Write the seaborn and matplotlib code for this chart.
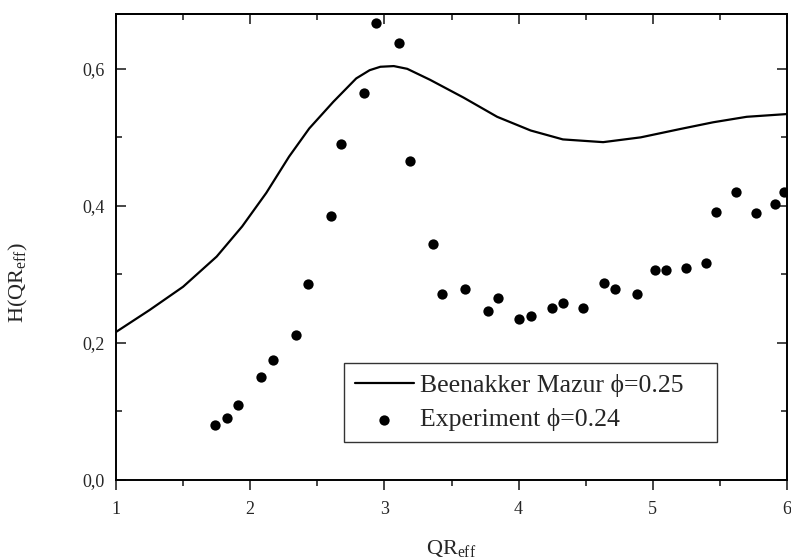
import numpy as np
import pandas as pd
import matplotlib
matplotlib.use("Agg")
import matplotlib.pyplot as plt
from matplotlib.ticker import MultipleLocator, FuncFormatter
import seaborn as sns

# Beenakker-Mazur theory curve
theory_q = [1.00, 1.25, 1.50, 1.75, 1.94, 2.12, 2.29, 2.44, 2.62, 2.79, 2.89,
            2.97, 3.07, 3.17, 3.34, 3.59, 3.84, 4.09, 4.33, 4.63, 4.91, 5.20,
            5.45, 5.70, 5.85, 6.00]
theory_h = [0.216, 0.248, 0.282, 0.326, 0.370, 0.419, 0.472, 0.513, 0.552,
            0.586, 0.598, 0.603, 0.604, 0.600, 0.584, 0.558, 0.530, 0.510,
            0.497, 0.493, 0.500, 0.512, 0.522, 0.530, 0.532, 0.534]

# experimental points
exp_q = [1.74, 1.83, 1.91, 2.08, 2.17, 2.34, 2.43, 2.60, 2.68, 2.85, 2.94,
         3.11, 3.19, 3.36, 3.43, 3.60, 3.77, 3.85, 4.00, 4.09, 4.25, 4.33,
         4.48, 4.64, 4.72, 4.88, 5.02, 5.10, 5.25, 5.40, 5.47, 5.62, 5.77,
         5.91, 5.98]
exp_h = [0.080, 0.091, 0.110, 0.150, 0.175, 0.212, 0.286, 0.385, 0.490,
         0.564, 0.667, 0.637, 0.465, 0.344, 0.271, 0.279, 0.247, 0.265,
         0.235, 0.239, 0.251, 0.259, 0.251, 0.287, 0.279, 0.272, 0.306,
         0.307, 0.309, 0.317, 0.391, 0.420, 0.389, 0.403, 0.420]

theory_label = "Beenakker Mazur \u03d5=0.25"
exp_label = "Experiment \u03d5=0.24"

sns.set_style("white")
plt.rcParams["font.family"] = ["Liberation Serif", "DejaVu Serif"]
plt.rcParams["mathtext.fontset"] = "custom"
plt.rcParams["mathtext.rm"] = "Liberation Serif"
plt.rcParams["mathtext.it"] = "Liberation Serif:italic"

df_theory = pd.DataFrame({"q": theory_q, "h": theory_h})
df_exp = pd.DataFrame({"q": exp_q, "h": exp_h})

fig = plt.figure(figsize=(7.91, 5.60), dpi=100)
ax = fig.add_axes([116 / 791, 1 - 480 / 560, 671 / 791, 466 / 560])

sns.lineplot(data=df_theory, x="q", y="h", ax=ax, color="black",
             linewidth=1.6, label=theory_label)
sns.scatterplot(data=df_exp, x="q", y="h", ax=ax, color="black", s=55,
                edgecolor="black", linewidth=0, label=exp_label)

ax.set_xlim(1, 6)
ax.set_ylim(0, 0.68)
ax.xaxis.set_major_locator(MultipleLocator(1))
ax.xaxis.set_minor_locator(MultipleLocator(0.5))
ax.yaxis.set_major_locator(MultipleLocator(0.2))
ax.yaxis.set_minor_locator(MultipleLocator(0.1))
ax.yaxis.set_major_formatter(FuncFormatter(lambda v, p: f"{v:.1f}".replace(".", ",")))
ax.xaxis.set_major_formatter(FuncFormatter(lambda v, p: f"{v:g}"))

for sp in ax.spines.values():
    sp.set_visible(True)
    sp.set_linewidth(1.4)
    sp.set_color("black")

ax.tick_params(axis="x", which="both", direction="out", bottom=True,
               labelsize=13, width=1.2, pad=8)
ax.tick_params(axis="x", which="major", length=7)
ax.tick_params(axis="x", which="minor", length=4)
ax.tick_params(axis="y", which="both", direction="in", left=True, right=True,
               labelsize=13, width=1.2, pad=8)
ax.tick_params(axis="y", which="major", length=7)
ax.tick_params(axis="y", which="minor", length=4)

top = ax.secondary_xaxis("top")
top.xaxis.set_major_locator(MultipleLocator(1))
top.xaxis.set_minor_locator(MultipleLocator(0.5))
top.tick_params(which="both", direction="in", labeltop=False, width=1.2)
top.tick_params(which="major", length=7)
top.tick_params(which="minor", length=4)
top.spines["top"].set_linewidth(1.4)

ax.set_xlabel(r"QR$_\mathrm{eff}$", fontsize=16)
ax.set_ylabel(r"H(QR$_\mathrm{eff}$)", fontsize=16)
ax.xaxis.set_label_coords(0.5, -0.125)
ax.yaxis.set_label_coords(-0.128, 0.423)

leg = ax.legend(loc="upper left",
                bbox_to_anchor=(344 / 791, 1 - 442 / 560, 373 / 791, 79 / 560),
                bbox_transform=fig.transFigure, mode="expand",
                fontsize=18.5, frameon=True, fancybox=False,
                edgecolor="black", borderpad=0.42, borderaxespad=0,
                handlelength=2.3, handletextpad=0.25, labelspacing=0.45)
leg.get_frame().set_linewidth(1.0)

fig.savefig("out.png", dpi=100)
plt.close(fig)
